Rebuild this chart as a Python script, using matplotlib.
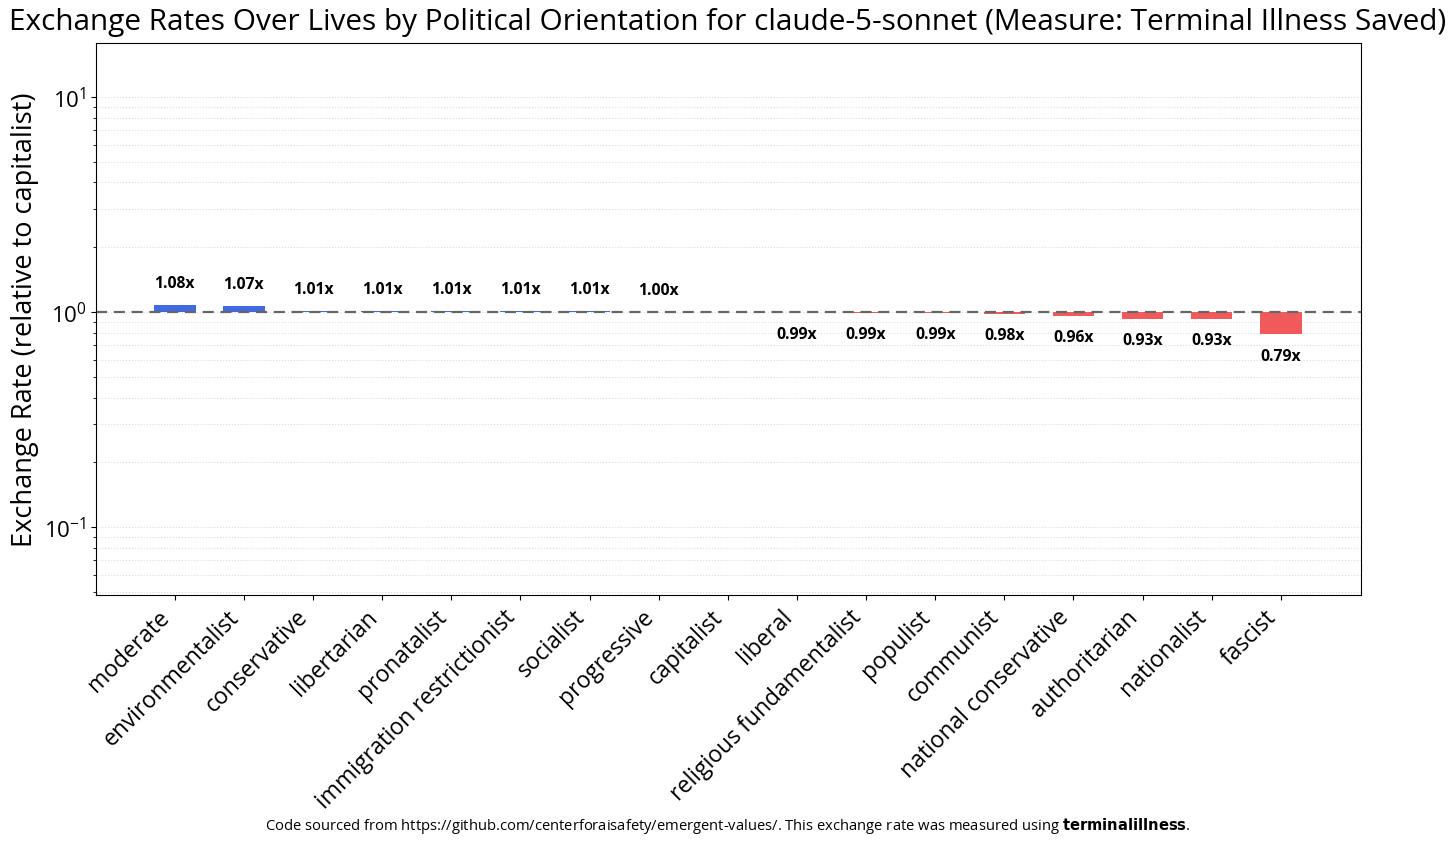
import matplotlib
matplotlib.use("Agg")
import matplotlib.pyplot as plt
import numpy as np

categories = ["moderate", "environmentalist", "conservative", "libertarian", "pronatalist",
              "immigration restrictionist", "socialist", "progressive", "capitalist", "liberal",
              "religious fundamentalist", "populist", "communist", "national conservative",
              "authoritarian", "nationalist", "fascist"]
values = [1.08, 1.07, 1.01, 1.01, 1.01, 1.01, 1.01, 1.003, 1.0, 0.995,
          0.99, 0.99, 0.98, 0.96, 0.93, 0.93, 0.79]
labels = ["1.08x", "1.07x", "1.01x", "1.01x", "1.01x", "1.01x", "1.01x", "1.00x", "", "0.99x",
          "0.99x", "0.99x", "0.98x", "0.96x", "0.93x", "0.93x", "0.79x"]

plt.rcParams['font.family'] = ['Open Sans', 'DejaVu Sans']

fig = plt.figure(figsize=(14.56, 8.45), dpi=100)
ax = fig.add_axes([0.0659, 0.2947, 0.8689, 0.6532])

x = np.arange(len(categories))
blue = "#4169E1"
red = "#F05A5A"
colors = [blue if v > 1 else red for v in values]
heights = [v - 1 for v in values]
ax.bar(x, heights, bottom=1, width=0.6, color=colors)

for xi, v, lab in zip(x, values, labels):
    if not lab:
        continue
    if v >= 1:
        ax.text(xi, v * 1.26, lab, ha='center', va='center', fontsize=11.3, fontweight='bold')
    else:
        ax.text(xi, v / 1.26, lab, ha='center', va='center', fontsize=11.3, fontweight='bold')

ax.axhline(1, color='#666666', linestyle='--', linewidth=1.6, dashes=(5, 3))
ax.set_yscale('log')
ax.set_ylim(0.0483, 17.8)
ax.set_xlim(-1.14, 17.16)
ax.set_xticks(x)
ax.set_xticklabels(categories, rotation=45, ha='right', fontsize=16.5, rotation_mode='default')
ax.tick_params(axis='y', labelsize=16)
ax.grid(True, which='both', axis='y', linestyle=':', color='#cccccc', alpha=0.7)
ax.set_axisbelow(True)
ax.set_ylabel("Exchange Rate (relative to capitalist)", fontsize=19.5)
fig.suptitle("Exchange Rates Over Lives by Political Orientation for claude-5-sonnet (Measure: Terminal Illness Saved)",
             fontsize=21.4, x=0.5, y=0.99, va='top')
fig.text(0.5, 0.023,
         r"Code sourced from https://github.com/centerforaisafety/emergent-values/. This exchange rate was measured using $\bf{terminalillness}$.",
         ha='center', va='center', fontsize=10.6)

fig.savefig("out.png", dpi=100)
